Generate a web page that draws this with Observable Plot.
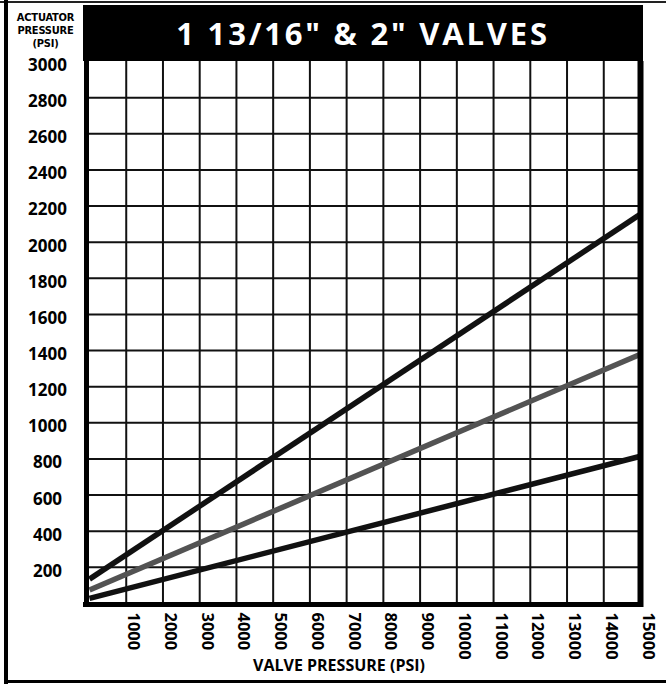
<!DOCTYPE html>
<html>
<head>
<meta charset="utf-8">
<script src="https://cdn.jsdelivr.net/npm/d3@7"></script>
<script src="https://cdn.jsdelivr.net/npm/@observablehq/plot@0.6"></script>
<style>
  html, body { margin: 0; padding: 0; background: #fff; }
  #wrap { position: relative; width: 666px; height: 686px; overflow: hidden; font-family: "Open Sans", "DejaVu Sans", sans-serif; }
  #wrap svg { position: absolute; left: 0; top: 0; }
  .ov { position: absolute; }
  #topline { left: 0; top: 1px; width: 666px; height: 2px; background: #222; }
  #leftline { left: 4px; top: 0; width: 4px; height: 684px; background: #000; }
  #bottomline { left: 4px; top: 680px; width: 662px; height: 3px; background: #000; }
  #header { left: 83px; top: 5px; width: 560px; height: 56px; background: #000; color: #fff;
            font-weight: 700; font-size: 31px; letter-spacing: 2.8px; text-align: center; line-height: 56px; white-space: nowrap; }
  #ylab { left: 8px; top: 11px; width: 75px; text-align: center; font-family: "DejaVu Sans Condensed", "Liberation Sans Narrow", sans-serif;
          font-stretch: condensed; font-weight: 700; font-size: 11px; line-height: 13px; letter-spacing: -0.2px; color: #000; }
  #xlab { left: 200px; top: 654px; width: 278px; text-align: center; font-weight: 700; font-size: 16px; color: #000; white-space: nowrap; }
</style>
</head>
<body>
<div id="wrap"></div>
<script>
// ---- data ----
const title = "1 13/16\" & 2\" VALVES";
const yAxisTitle = ["ACTUATOR", "PRESSURE", "(PSI)"];
const xAxisTitle = "VALVE PRESSURE (PSI)";
const xTicks = [1000, 2000, 3000, 4000, 5000, 6000, 7000, 8000, 9000, 10000, 11000, 12000, 13000, 14000, 15000];
const yTicks = [200, 400, 600, 800, 1000, 1200, 1400, 1600, 1800, 2000, 2200, 2400, 2600, 2800, 3000];
const valvePressure = [0, 15000];
const upperLine = [135, 2155];
const middleLine = [75, 1380];
const lowerLine = [28, 815];

const series = [
  {name: "upper", color: "#111", values: upperLine},
  {name: "middle", color: "#535353", values: middleLine},
  {name: "lower", color: "#111", values: lowerLine}
];
const rows = series.flatMap(s => valvePressure.map((x, i) => ({series: s.name, color: s.color, x, y: s.values[i]})));

const gridX = xTicks.filter(d => d < 15000);
const gridY = yTicks.filter(d => d < 3000);

const chart = Plot.plot({
  width: 666,
  height: 686,
  marginLeft: 89,
  marginRight: 26,
  marginTop: 61,
  marginBottom: 83,
  x: {domain: [0, 15000], axis: null},
  y: {domain: [0, 3000], axis: null},
  style: {background: "transparent", overflow: "visible"},
  marks: [
    Plot.ruleX(gridX, {stroke: "#111", strokeWidth: 2}),
    Plot.ruleY(gridY, {stroke: "#111", strokeWidth: 2}),
    ...series.map(s => Plot.line(rows.filter(r => r.series === s.name), {x: "x", y: "y", stroke: s.color, strokeWidth: 5.5, strokeLinecap: "butt"})),
    Plot.ruleX([0], {stroke: "#000", strokeWidth: 5, dx: -3, insetBottom: -4}),
    Plot.ruleX([15000], {stroke: "#000", strokeWidth: 6, insetBottom: -4}),
    Plot.ruleY([0], {stroke: "#000", strokeWidth: 5, dy: 1, insetLeft: -6, insetRight: -3}),
    Plot.text(yTicks, {y: d => d, text: d => String(d), frameAnchor: "left", dx: -42, dy: 4, textAnchor: "middle",
      fontSize: 17, fontWeight: 700, fill: "#000", fontFamily: "Open Sans, sans-serif", letterSpacing: 0.6}),
    Plot.text(xTicks, {x: d => d, text: d => String(d), frameAnchor: "bottom", rotate: 90, textAnchor: "start", dy: 9, dx: 2,
      fontSize: 16.5, fontWeight: 700, fill: "#000", fontFamily: "Open Sans, sans-serif", letterSpacing: 0.5})
  ]
});

const wrap = document.getElementById("wrap");
wrap.appendChild(chart);
function ov(id, html) { const d = document.createElement("div"); d.className = "ov"; d.id = id; if (html) d.innerHTML = html; wrap.appendChild(d); return d; }
ov("topline"); ov("leftline"); ov("bottomline");
ov("header").textContent = title;
ov("ylab").innerHTML = yAxisTitle.join("<br>");
ov("xlab").textContent = xAxisTitle;
</script>
</body>
</html>
